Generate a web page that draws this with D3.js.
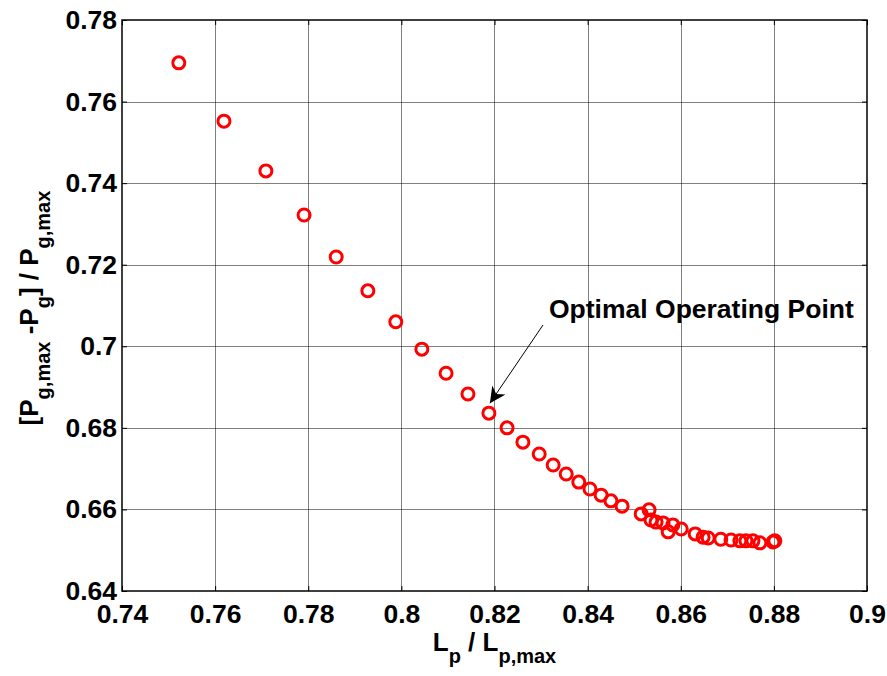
<!DOCTYPE html>
<html>
<head>
<meta charset="utf-8">
<script src="https://cdn.jsdelivr.net/npm/d3@7"></script>
<style>
  html, body { margin: 0; padding: 0; background: #fff; }
  svg text { font-family: Arial, "Liberation Sans", sans-serif; font-weight: bold; }
</style>
</head>
<body>
<svg id="chart" width="887" height="676"></svg>
<script>
// Normalized pipe length vs. normalized power loss
const lengthRatio = [
  0.7522, 0.7619, 0.7709, 0.7791, 0.7860, 0.7928, 0.7988, 0.8044, 0.8096, 0.8143,
  0.8188, 0.8227, 0.8261, 0.8296, 0.8326, 0.8354, 0.8381, 0.8405, 0.8429, 0.8450,
  0.8474, 0.8515, 0.8532, 0.8536, 0.8547, 0.8562, 0.8573, 0.8583, 0.8601, 0.8631,
  0.8648, 0.8659, 0.8686, 0.8708, 0.8727, 0.8740, 0.8755, 0.8770, 0.8798, 0.8802
];
const powerRatio = [
  0.7695, 0.7552, 0.7430, 0.7322, 0.7219, 0.7136, 0.7060, 0.6993, 0.6934, 0.6883,
  0.6836, 0.6800, 0.6765, 0.6736, 0.6709, 0.6687, 0.6667, 0.6650, 0.6635, 0.6621,
  0.6608, 0.6589, 0.6599, 0.6574, 0.6569, 0.6567, 0.6545, 0.6562, 0.6552, 0.6540,
  0.6532, 0.6530, 0.6527, 0.6525, 0.6523, 0.6523, 0.6523, 0.6518, 0.6520, 0.6523
];
const xTicks = [0.74, 0.76, 0.78, 0.8, 0.82, 0.84, 0.86, 0.88, 0.9];
const yTicks = [0.64, 0.66, 0.68, 0.7, 0.72, 0.74, 0.76, 0.78];
const optimalIndex = 10;
const annotationText = "Optimal Operating Point";

const margin = { left: 122, right: 20, top: 20, bottom: 85 };
const width = 887, height = 676;
const svg = d3.select("#chart");

const x = d3.scaleLinear().domain([0.74, 0.9]).range([margin.left, width - margin.right]);
const y = d3.scaleLinear().domain([0.64, 0.78]).range([height - margin.bottom, margin.top]);
const fmt = d => d3.format("~g")(d);

const x0 = x.range()[0], x1 = x.range()[1];
const y0 = y.range()[0], y1 = y.range()[1];

// grid
const grid = svg.append("g").attr("stroke", "#000").attr("stroke-opacity", 0.5).attr("stroke-width", 1);
grid.selectAll("line.gx").data(xTicks.slice(1, -1)).join("line")
  .attr("x1", d => Math.round(x(d)) + 0.5).attr("x2", d => Math.round(x(d)) + 0.5)
  .attr("y1", y1).attr("y2", y0);
grid.selectAll("line.gy").data(yTicks.slice(1, -1)).join("line")
  .attr("y1", d => Math.round(y(d)) + 0.5).attr("y2", d => Math.round(y(d)) + 0.5)
  .attr("x1", x0).attr("x2", x1);

// axes
const tickFont = "26.5px";
const xAxis = svg.append("g").attr("transform", `translate(0,${y0})`)
  .call(d3.axisBottom(x).tickValues(xTicks).tickFormat(fmt).tickSizeInner(-5).tickSizeOuter(0).tickPadding(13));
const yAxis = svg.append("g").attr("transform", `translate(${x0},0)`)
  .call(d3.axisLeft(y).tickValues(yTicks).tickFormat(fmt).tickSizeInner(-5).tickSizeOuter(0).tickPadding(5));
const xAxisTop = svg.append("g").attr("transform", `translate(0,${y1})`)
  .call(d3.axisTop(x).tickValues(xTicks).tickFormat("").tickSizeInner(-5).tickSizeOuter(0));
const yAxisRight = svg.append("g").attr("transform", `translate(${x1},0)`)
  .call(d3.axisRight(y).tickValues(yTicks).tickFormat("").tickSizeInner(-5).tickSizeOuter(0));
[xAxis, yAxis, xAxisTop, yAxisRight].forEach(a => {
  a.select(".domain").remove();
  a.selectAll("line").attr("stroke", "#000").attr("stroke-width", 1);
  a.selectAll("text").attr("fill", "#000").style("font-size", tickFont).style("font-weight", "bold")
    .style("font-family", "Arial, 'Liberation Sans', sans-serif");
});

// box
svg.append("rect").attr("x", x0).attr("y", y1).attr("width", x1 - x0).attr("height", y0 - y1)
  .attr("fill", "none").attr("stroke", "#000").attr("stroke-width", 1.5);

// markers
svg.append("g").selectAll("circle").data(lengthRatio).join("circle")
  .attr("cx", (d, i) => x(d)).attr("cy", (d, i) => y(powerRatio[i]))
  .attr("r", 6).attr("fill", "none").attr("stroke", "#ff0000").attr("stroke-width", 3);

// annotation arrow pointing at the optimal point
const tipX = x(lengthRatio[optimalIndex]) + 1, tipY = y(powerRatio[optimalIndex]) - 10;
const tailX = 543, tailY = 325;
svg.append("defs").append("marker").attr("id", "arrowhead")
  .attr("viewBox", "0 0 10 10").attr("refX", 10).attr("refY", 5)
  .attr("markerWidth", 18).attr("markerHeight", 16).attr("markerUnits", "userSpaceOnUse")
  .attr("orient", "auto")
  .append("path").attr("d", "M0,0 L10,5 L0,10 L3,5 Z").attr("fill", "#000");
svg.append("line").attr("x1", tailX).attr("y1", tailY).attr("x2", tipX).attr("y2", tipY)
  .attr("stroke", "#000").attr("stroke-width", 1).attr("marker-end", "url(#arrowhead)");
svg.append("text").attr("x", 549).attr("y", 318).style("font-size", "26.5px").attr("fill", "#000")
  .text(annotationText);

// axis titles with subscripts
const xl = svg.append("text").attr("x", (x0 + x1) / 2).attr("y", 651)
  .attr("text-anchor", "middle").style("font-size", "26px").attr("fill", "#000");
xl.append("tspan").text("L");
xl.append("tspan").attr("dy", 12).style("font-size", "20px").text("p");
xl.append("tspan").attr("dy", -12).text(" / L");
xl.append("tspan").attr("dy", 12).style("font-size", "20px").text("p,max");

const yl = svg.append("text").attr("transform", `translate(38,308) rotate(-90)`)
  .attr("text-anchor", "middle").style("font-size", "26px").attr("fill", "#000");
yl.append("tspan").text("[P");
yl.append("tspan").attr("dy", 12).style("font-size", "20px").text("g,max");
yl.append("tspan").attr("dy", -12).text(" -P");
yl.append("tspan").attr("dy", 12).style("font-size", "20px").text("g");
yl.append("tspan").attr("dy", -12).text("] / P");
yl.append("tspan").attr("dy", 12).style("font-size", "20px").text("g,max");
</script>
</body>
</html>
